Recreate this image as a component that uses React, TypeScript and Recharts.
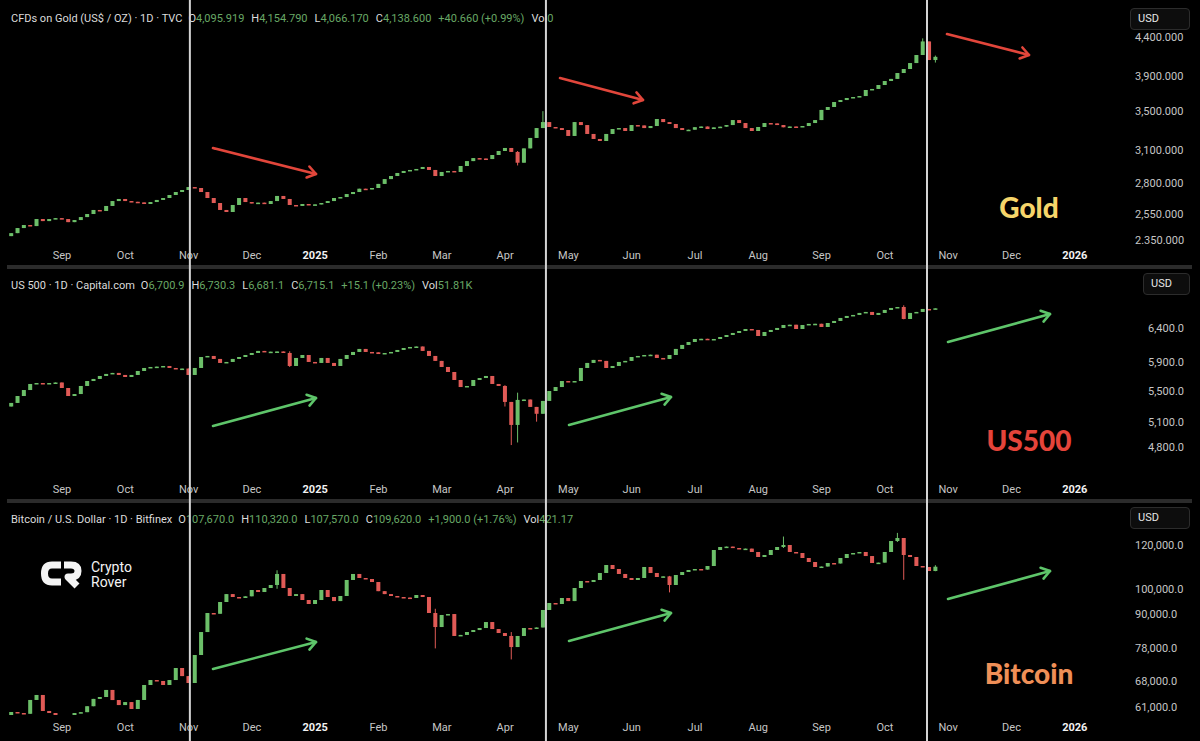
import React from "react";
import { ComposedChart, Bar, XAxis, YAxis } from "recharts";

// x unit = months since 1 Aug 2024; one candle every 0.1 month (about 2 trading days)
const CANDLE_START = 0.2;
const CANDLE_STEP = 0.1;
const X_DOMAIN: [number, number] = [0.0205, 17.714];
const PLOT_W = 1120;

const MONTH_TICKS = [1, 2, 3, 4, 5, 6, 7, 8, 9, 10, 11, 12, 13, 14, 15, 16, 17];
const MONTH_LABELS = ["Sep", "Oct", "Nov", "Dec", "2025", "Feb", "Mar", "Apr", "May", "Jun", "Jul", "Aug", "Sep", "Oct", "Nov", "Dec", "2026"];

// vertical markers: US election, late April 2025, late Oct 2025
const EVENT_MONTHS = [3.02, 8.645, 14.665];

// ---- Gold (TVC) ----
const GOLD_OPEN0 = 2380;
const GOLD_CLOSE = [
  2402, 2440, 2463, 2455, 2509, 2493, 2509, 2516, 2509, 2485,
  2501, 2524, 2548, 2580, 2572, 2612, 2652, 2669, 2652, 2646,
  2641, 2628, 2644, 2661, 2677, 2702, 2727, 2744, 2769, 2761,
  2727, 2677, 2636, 2580, 2564, 2620, 2677, 2644, 2633, 2639,
  2628, 2652, 2694, 2669, 2620, 2612, 2628, 2620, 2625, 2636,
  2652, 2677, 2685, 2710, 2727, 2755, 2749, 2761, 2796, 2838,
  2865, 2892, 2910, 2919, 2928, 2946, 2919, 2865, 2901, 2910,
  2901, 2955, 3000, 3028, 3024, 3019, 3057, 3095, 3124, 3086,
  2985, 3120, 3222, 3322, 3384, 3333, 3322, 3302, 3242, 3384,
  3353, 3262, 3212, 3192, 3262, 3312, 3322, 3292, 3353, 3349,
  3322, 3343, 3416, 3384, 3364, 3322, 3302, 3305, 3331, 3338,
  3312, 3329, 3336, 3353, 3405, 3374, 3322, 3292, 3333, 3374,
  3370, 3353, 3330, 3338, 3334, 3343, 3374, 3405, 3513, 3545,
  3600, 3622, 3645, 3656, 3667, 3736, 3748, 3794, 3841, 3866,
  3937, 3986, 4060, 4162, 4340, 4098, 4138.6,
];
const GOLD_WICKS: [number, number, number][] = [
  [80, 3095, 2960],
  [84, 3500, 3322],
  [144, 4381, 4162],
  [146, 4154.8, 4066.2],
];
const GOLD_TICKS = [2350, 2550, 2800, 3100, 3500, 3900, 4400];
const GOLD_TICK_LABELS = ["2.350.000", "2,550.000", "2,800.000", "3,100.000", "3,500.000", "3,900.000", "4,400.000"];

// ---- US 500 (Capital.com) ----
const SPX_OPEN0 = 5300;
const SPX_CLOSE = [
  5346, 5436, 5515, 5596, 5609, 5596, 5609, 5616, 5542, 5436,
  5462, 5569, 5636, 5664, 5705, 5733, 5747, 5719, 5691, 5719,
  5774, 5816, 5830, 5835, 5844, 5816, 5802, 5808, 5719, 5816,
  5972, 5987, 5944, 5887, 5901, 5944, 5972, 6001, 6030, 6060,
  6045, 6049, 6052, 6030, 5844, 5958, 6001, 5901, 5887, 5958,
  5887, 5844, 5944, 6001, 6045, 6089, 6045, 6040, 6015, 6030,
  6045, 6074, 6103, 6118, 6125, 6060, 5987, 5916, 5830, 5760,
  5650, 5555, 5569, 5650, 5677, 5705, 5596, 5569, 5359, 5070,
  5385, 5390, 5295, 5208, 5372, 5502, 5555, 5636, 5622, 5636,
  5816, 5887, 5930, 5916, 5816, 5844, 5901, 5916, 5972, 5987,
  6001, 6005, 5958, 5944, 6001, 6089, 6148, 6192, 6237, 6240,
  6230, 6237, 6267, 6297, 6328, 6358, 6389, 6374, 6282, 6343,
  6374, 6405, 6451, 6455, 6389, 6451, 6467, 6470, 6420, 6482,
  6514, 6561, 6593, 6609, 6641, 6657, 6609, 6641, 6689, 6721,
  6737, 6545, 6641, 6657, 6705, 6700.9, 6715.1,
];
const SPX_WICKS: [number, number, number][] = [
  [44, 6055, 5830],
  [78, 5580, 5300],
  [79, 5260, 4830],
  [80, 5480, 4860],
  [83, 5290, 5110],
  [141, 6765, 6540],
];
const SPX_TICKS = [4800, 5100, 5500, 5900, 6400];
const SPX_TICK_LABELS = ["4,800.0", "5,100.0", "5,500.0", "5,900.0", "6,400.0"];

// ---- Bitcoin (Bitfinex) ----
const BTC_OPEN0 = 58500;
const BTC_CLOSE = [
  59840, 59590, 59400, 62920, 64240, 60100, 59590, 56500, 55000, 57500,
  59590, 59800, 61300, 63200, 63700, 65600, 62900, 61600, 62370, 60600,
  62920, 66970, 68370, 68100, 66970, 68370, 71880, 69500, 67530, 75880,
  83500, 90390, 90100, 94630, 97800, 96620, 96220, 96900, 99480, 98650,
  100310, 101580, 106350, 100310, 97030, 97800, 95420, 93850, 95420, 99480,
  96620, 95000, 97030, 103720, 106350, 104580, 104150, 102850, 99000, 97800,
  97030, 96620, 96400, 96220, 97430, 96620, 90390, 85260, 89650, 90000,
  82140, 82500, 83510, 84200, 84910, 87050, 84550, 83160, 82140, 78440,
  82140, 84910, 84600, 85100, 91530, 94240, 93850, 96220, 95000, 100310,
  103280, 102850, 103720, 106790, 110400, 108580, 106350, 104580, 103720, 104580,
  109490, 106790, 105020, 105300, 101580, 105900, 107230, 108130, 108580, 108300,
  109940, 117520, 119000, 119200, 118510, 118010, 118200, 116550, 114150, 115100,
  117520, 119000, 120000, 116550, 116060, 113670, 111790, 109490, 109700, 111320,
  111100, 113670, 115580, 116060, 116550, 114600, 111320, 111500, 116550, 122000,
  123550, 115100, 114150, 109940, 109490, 107670, 109620,
];
const BTC_WICKS: [number, number, number][] = [
  [42, 108000, 100000],
  [67, 92000, 78000],
  [79, 83500, 74500],
  [104, 105500, 98500],
  [122, 124300, 118500],
  [140, 126200, 121500],
  [141, 122500, 103800],
  [146, 110320, 107570],
];
const BTC_TICKS = [61000, 68000, 78000, 90000, 100000, 120000];
const BTC_TICK_LABELS = ["61,000.0", "68,000.0", "78,000.0", "90,000.0", "100,000.0", "120,000.0"];

const UP = "#6cbf69";
const DOWN = "#e05a56";
const AXIS_TEXT = "#c6c6c6";
const VALUE_GREEN = "#68a866";
const FONT = "Roboto, 'Liberation Sans', Arial, sans-serif";

type Row = { m: number; o: number; c: number; hi: number; lo: number; range: [number, number] };

function buildRows(closes: number[], open0: number, wicks: [number, number, number][]): Row[] {
  return closes.map((c, i) => {
    const o = i === 0 ? open0 : closes[i - 1];
    const w = wicks.find((k) => k[0] === i);
    const hi = Math.max(o, c, w ? w[1] : 0);
    const lo = Math.min(o, c, w ? w[2] : Infinity);
    return { m: CANDLE_START + CANDLE_STEP * i, o, c, hi, lo, range: [lo, hi] };
  });
}

function Candle(props: any) {
  const { x, y, width, height } = props;
  const p: Row = props.payload ?? props;
  if (x == null || y == null || !p || p.hi == null) return null;
  const top = Math.min(y, y + (height || 0));
  const bot = Math.max(y, y + (height || 0));
  const lh = Math.log(p.hi);
  const ll = Math.log(p.lo);
  const toY = (v: number) => (lh === ll ? top : top + ((bot - top) * (lh - Math.log(v))) / (lh - ll));
  const yo = toY(p.o);
  const yc = toY(p.c);
  const color = p.c >= p.o ? UP : DOWN;
  const cx = x + width / 2;
  const bt = Math.min(yo, yc);
  const bh = Math.max(1.5, Math.abs(yo - yc));
  return (
    <g>
      <line x1={cx} x2={cx} y1={top} y2={Math.max(bot, top + 1)} stroke={color} strokeWidth={1} />
      <rect x={x} y={bt} width={width} height={bh} fill={color} />
    </g>
  );
}

function MonthTick(props: any) {
  const { x, y, payload } = props;
  const label = MONTH_LABELS[MONTH_TICKS.indexOf(payload.value)];
  const bold = /^\d+$/.test(label);
  return (
    <text x={x} y={y} dy="0.71em" textAnchor="middle" fill={bold ? "#f2f2f2" : AXIS_TEXT} fontWeight={bold ? 700 : 400} fontSize={11} fontFamily={FONT}>
      {label}
    </text>
  );
}

function PriceTick(props: any) {
  const { y, payload, ticks, labels, labelX } = props;
  const label = labels[ticks.indexOf(payload.value)];
  return (
    <text x={labelX} y={y} dy="0.35em" textAnchor="start" fill={AXIS_TEXT} fontSize={11} fontFamily={FONT}>
      {label}
    </text>
  );
}

function Panel(props: {
  top: number;
  height: number;
  axisHeight: number;
  rows: Row[];
  domain: [number, number];
  ticks: number[];
  labels: string[];
  labelX: number;
}) {
  const { top, height, axisHeight, rows, domain, ticks, labels, labelX } = props;
  return (
    <div style={{ position: "absolute", left: 0, top, width: 1200, height }}>
      <ComposedChart width={1200} height={height} data={rows} margin={{ top: 0, right: 0, bottom: 0, left: 0 }}>
        <XAxis
          type="number"
          dataKey="m"
          domain={X_DOMAIN}
          allowDataOverflow
          ticks={MONTH_TICKS}
          interval={0}
          axisLine={false}
          tickLine={false}
          height={axisHeight}
          tick={<MonthTick />}
        />
        <YAxis
          orientation="right"
          scale="log"
          domain={domain}
          allowDataOverflow
          ticks={ticks}
          interval={0}
          axisLine={false}
          tickLine={false}
          width={80}
          tick={<PriceTick ticks={ticks} labels={labels} labelX={labelX} />}
        />
        <Bar dataKey="range" barSize={4} isAnimationActive={false} shape={(p: any) => <Candle {...p} />} />
      </ComposedChart>
    </div>
  );
}

function Header({ top, title, ohlc, change, vol }: { top: number; title: string; ohlc: [string, string][]; change: string; vol: string }) {
  return (
    <div style={{ position: "absolute", left: 11, top, fontFamily: FONT, fontSize: 11, lineHeight: "13px", color: "#dcdcdc", whiteSpace: "nowrap", display: "flex" }}>
      <span style={{ marginRight: 6 }}>{title}</span>
      {ohlc.map(([k, v]) => (
        <span key={k} style={{ marginRight: 7 }}>
          {k}
          <span style={{ color: VALUE_GREEN }}>{v}</span>
        </span>
      ))}
      <span style={{ color: VALUE_GREEN, marginRight: 7 }}>{change}</span>
      <span>
        Vol<span style={{ color: VALUE_GREEN }}>{vol}</span>
      </span>
    </div>
  );
}

function UsdBox({ left, top, width }: { left: number; top: number; width: number }) {
  return (
    <div
      style={{
        position: "absolute",
        left,
        top,
        width,
        height: 22,
        boxSizing: "border-box",
        border: "1px solid #2c2c2c",
        borderRadius: 4,
        background: "#0d0d0d",
        color: "#e6e6e6",
        fontFamily: FONT,
        fontSize: 11,
        lineHeight: "20px",
        paddingLeft: 7,
      }}
    >
      USD
    </div>
  );
}

function BigLabel({ text, color, cy }: { text: string; color: string; cy: number }) {
  return (
    <div
      style={{
        position: "absolute",
        left: 929,
        width: 200,
        top: cy - 18,
        height: 36,
        textAlign: "center",
        fontFamily: "Lato, 'Open Sans', sans-serif",
        fontWeight: 900,
        fontSize: 28,
        lineHeight: "36px",
        color,
      }}
    >
      {text}
    </div>
  );
}

function Arrow({ x1, y1, x2, y2, color }: { x1: number; y1: number; x2: number; y2: number; color: string }) {
  const a = Math.atan2(y2 - y1, x2 - x1);
  const L = 10;
  const s = 0.6;
  const p1 = [x2 - L * Math.cos(a - s), y2 - L * Math.sin(a - s)];
  const p2 = [x2 - L * Math.cos(a + s), y2 - L * Math.sin(a + s)];
  return (
    <g stroke={color} strokeWidth={2.6} strokeLinecap="round" strokeLinejoin="round" fill="none">
      <line x1={x1} y1={y1} x2={x2} y2={y2} />
      <polyline points={`${p1[0]},${p1[1]} ${x2},${y2} ${p2[0]},${p2[1]}`} />
    </g>
  );
}

const monthToPx = (m: number) => ((m - X_DOMAIN[0]) / (X_DOMAIN[1] - X_DOMAIN[0])) * PLOT_W;

export default function App() {
  const gold = buildRows(GOLD_CLOSE, GOLD_OPEN0, GOLD_WICKS);
  const spx = buildRows(SPX_CLOSE, SPX_OPEN0, SPX_WICKS);
  const btc = buildRows(BTC_CLOSE, BTC_OPEN0, BTC_WICKS);
  const RED = "#e2463b";
  const GREEN = "#5ec56a";

  return (
    <div style={{ position: "absolute", left: 0, top: 0, width: 1200, height: 741, background: "#000", overflow: "hidden" }}>
      <Panel top={0} height={265} axisHeight={22} rows={gold} domain={[2330, 4932]} ticks={GOLD_TICKS} labels={GOLD_TICK_LABELS} labelX={1135} />
      <Panel top={269} height={230} axisHeight={22} rows={spx} domain={[4472, 7383]} ticks={SPX_TICKS} labels={SPX_TICK_LABELS} labelX={1148} />
      <Panel top={503} height={238} axisHeight={26} rows={btc} domain={[59100, 142940]} ticks={BTC_TICKS} labels={BTC_TICK_LABELS} labelX={1135} />

      <Header
        top={11.5}
        title="CFDs on Gold (US$ / OZ) · 1D · TVC"
        ohlc={[["O", "4,095.919"], ["H", "4,154.790"], ["L", "4,066.170"], ["C", "4,138.600"]]}
        change="+40.660 (+0.99%)"
        vol="0"
      />
      <Header
        top={278.5}
        title="US 500 · 1D · Capital.com"
        ohlc={[["O", "6,700.9"], ["H", "6,730.3"], ["L", "6,681.1"], ["C", "6,715.1"]]}
        change="+15.1 (+0.23%)"
        vol="51.81K"
      />
      <Header
        top={512.5}
        title="Bitcoin / U.S. Dollar · 1D · Bitfinex"
        ohlc={[["O", "107,670.0"], ["H", "110,320.0"], ["L", "107,570.0"], ["C", "109,620.0"]]}
        change="+1,900.0 (+1.76%)"
        vol="421.17"
      />

      <UsdBox left={1130} top={8} width={60} />
      <UsdBox left={1143} top={273} width={47} />
      <UsdBox left={1130} top={507} width={60} />

      <BigLabel text="Gold" color="#f6d56a" cy={207} />
      <BigLabel text="US500" color="#e5443a" cy={440} />
      <BigLabel text="Bitcoin" color="#ef8f57" cy={673} />

      <svg width={1200} height={741} style={{ position: "absolute", left: 0, top: 0, pointerEvents: "none" }}>
        <rect x={7} y={265} width={1185} height={4} fill="#2b2b2b" />
        <rect x={7} y={499} width={1185} height={4} fill="#2b2b2b" />
        {EVENT_MONTHS.map((m) => (
          <line key={m} x1={monthToPx(m)} x2={monthToPx(m)} y1={0} y2={741} stroke="#d4d4d4" strokeWidth={2} />
        ))}

        <Arrow x1={213} y1={148} x2={316} y2={174} color={RED} />
        <Arrow x1={560} y1={78} x2={643} y2={100} color={RED} />
        <Arrow x1={947} y1={34} x2={1029} y2={55} color={RED} />

        <Arrow x1={213} y1={426} x2={316} y2={398} color={GREEN} />
        <Arrow x1={569} y1={425} x2={671} y2={397} color={GREEN} />
        <Arrow x1={948} y1={342} x2={1050} y2={314} color={GREEN} />

        <Arrow x1={213} y1={669} x2={316} y2={642} color={GREEN} />
        <Arrow x1={569} y1={641} x2={671} y2={613} color={GREEN} />
        <Arrow x1={948} y1={599} x2={1050} y2={571} color={GREEN} />

        <g fill="none" stroke="#f4f4f4" strokeWidth={7}>
          <path d="M 61 565 L 52 565 Q 44.5 565 44.5 573.5 Q 44.5 582 52 582 L 61 582" />
          <path d="M 64 565 L 71 565 Q 78 565 78 571 Q 78 577 71 577 L 68 577 L 77 586" strokeLinejoin="round" />
        </g>
        <text x={91} y={572} fill="#f4f4f4" fontFamily={FONT} fontSize={14}>
          Crypto
        </text>
        <text x={91} y={587} fill="#f4f4f4" fontFamily={FONT} fontSize={14}>
          Rover
        </text>
      </svg>
    </div>
  );
}
